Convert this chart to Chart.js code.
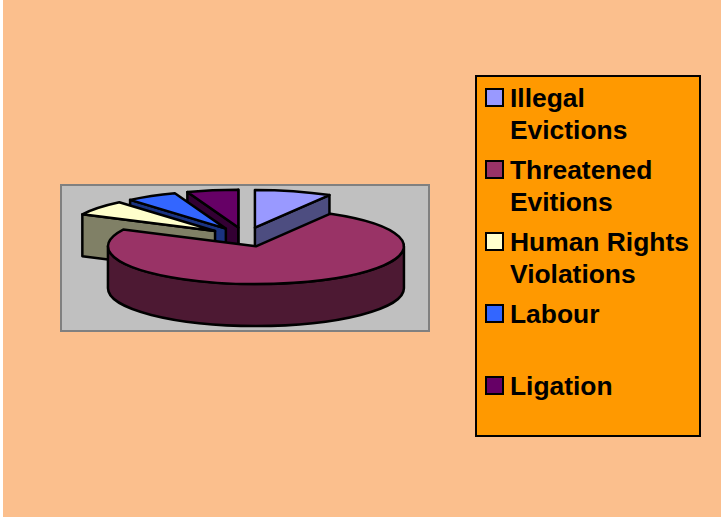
<!DOCTYPE html>
<html>
<head>
<meta charset="utf-8">
<title>Cases by type</title>
<script src="https://cdn.jsdelivr.net/npm/chart.js@4"></script>
<style>
    html, body { margin: 0; padding: 0; background: #fff; overflow: hidden; }
    #page { position: absolute; left: 3px; top: 0; width: 718px; height: 517px; background: #FBBF8D; }
    #pieChart { position: absolute; left: 0; top: 0; }
    #legend {
        position: absolute; left: 475px; top: 75px; width: 222px; height: 358px;
        background: #FF9900; border: 2px solid #000;
        font: bold 26.4px "Liberation Sans", Arial, sans-serif; color: #000;
    }
    .legend-item { position: relative; height: 72px; line-height: 32px; padding: 5px 0 0 33px; box-sizing: border-box; }
    .legend-box { position: absolute; left: 8px; top: 11px; width: 15px; height: 15px; border: 2px solid #000; }
</style>
</head>
<body>
<div id="page"></div>
<canvas id="pieChart" width="721" height="518"></canvas>
<div id="legend"></div>
<script>
const categories = ['Illegal Evictions', 'Threatened Evitions', 'Human Rights Violations', 'Labour', 'Ligation'];
const shares = [8.4, 73.9, 6.5, 5.6, 5.6];
const topColors = ['#9999FF', '#993366', '#FFFFCC', '#3366FF', '#660066'];
const sideColors = ['#4D4D80', '#4D1933', '#808066', '#1A3380', '#330033'];

const squash = 0.255;   // vertical flattening of the pie
const depth = 42;       // height of the slices
const paintOrder = [4, 3, 2, 0, 1];   // back to front

function sliceGeometry(arc) {
    const mid = (arc.startAngle + arc.endAngle) / 2;
    const offset = arc.options.offset;
    return {
        cx: arc.x + Math.cos(mid) * offset,
        cy: arc.y + Math.sin(mid) * offset * squash,
        rx: arc.outerRadius,
        ry: arc.outerRadius * squash,
        start: arc.startAngle,
        end: arc.endAngle
    };
}

function paintPath(ctx, fill) {
    ctx.fillStyle = fill;
    ctx.fill();
    ctx.stroke();
}

function drawEdgeWall(ctx, g, angle, fill) {
    const x = g.cx + Math.cos(angle) * g.rx;
    const y = g.cy + Math.sin(angle) * g.ry;
    ctx.beginPath();
    ctx.moveTo(g.cx, g.cy);
    ctx.lineTo(x, y);
    ctx.lineTo(x, y + depth);
    ctx.lineTo(g.cx, g.cy + depth);
    ctx.closePath();
    paintPath(ctx, fill);
}

function drawSlice(ctx, arc, index) {
    const g = sliceGeometry(arc);
    const side = sideColors[index];

    // walls facing the viewer only
    if (Math.cos(g.start) < 0) drawEdgeWall(ctx, g, g.start, side);
    if (Math.cos(g.end) > 0) drawEdgeWall(ctx, g, g.end, side);

    const from = Math.max(g.start, 0);
    const to = Math.min(g.end, Math.PI);
    if (to > from) {
        ctx.beginPath();
        ctx.ellipse(g.cx, g.cy, g.rx, g.ry, 0, from, to);
        ctx.ellipse(g.cx, g.cy + depth, g.rx, g.ry, 0, to, from, true);
        ctx.closePath();
        paintPath(ctx, side);
    }

    ctx.beginPath();
    ctx.moveTo(g.cx, g.cy);
    ctx.ellipse(g.cx, g.cy, g.rx, g.ry, 0, g.start, g.end);
    ctx.closePath();
    paintPath(ctx, topColors[index]);
}

const plotBackground = {
    id: 'plotBackground',
    beforeDraw(chart) {
        const ctx = chart.ctx;
        ctx.save();
        ctx.fillStyle = '#C0C0C0';
        ctx.strokeStyle = '#808080';
        ctx.lineWidth = 2;
        ctx.fillRect(61, 185, 368, 146);
        ctx.strokeRect(61, 185, 368, 146);
        ctx.restore();
    }
};

const pie3d = {
    id: 'pie3d',
    beforeDatasetsDraw(chart) {
        const ctx = chart.ctx;
        const arcs = chart.getDatasetMeta(0).data;
        ctx.save();
        ctx.strokeStyle = '#000';
        ctx.lineWidth = 2.5;
        ctx.lineJoin = 'round';
        paintOrder.forEach(i => drawSlice(ctx, arcs[i], i));
        ctx.restore();
        return false;
    }
};

new Chart(document.getElementById('pieChart').getContext('2d'), {
    type: 'pie',
    data: {
        labels: categories,
        datasets: [{
            data: shares,
            backgroundColor: topColors,
            borderWidth: 0,
            offset: 38
        }]
    },
    options: {
        responsive: false,
        animation: false,
        layout: { padding: { left: 78, top: 70, right: 309, bottom: 114 } },
        events: [],
        plugins: {
            legend: { display: false },
            tooltip: { enabled: false }
        }
    },
    plugins: [plotBackground, pie3d]
});

// Legend box with wrapped labels
const legend = document.getElementById('legend');
categories.forEach((name, i) => {
    const item = document.createElement('div');
    item.className = 'legend-item';
    item.textContent = name;
    const box = document.createElement('span');
    box.className = 'legend-box';
    box.style.background = topColors[i];
    item.appendChild(box);
    legend.appendChild(item);
});
</script>
</body>
</html>
